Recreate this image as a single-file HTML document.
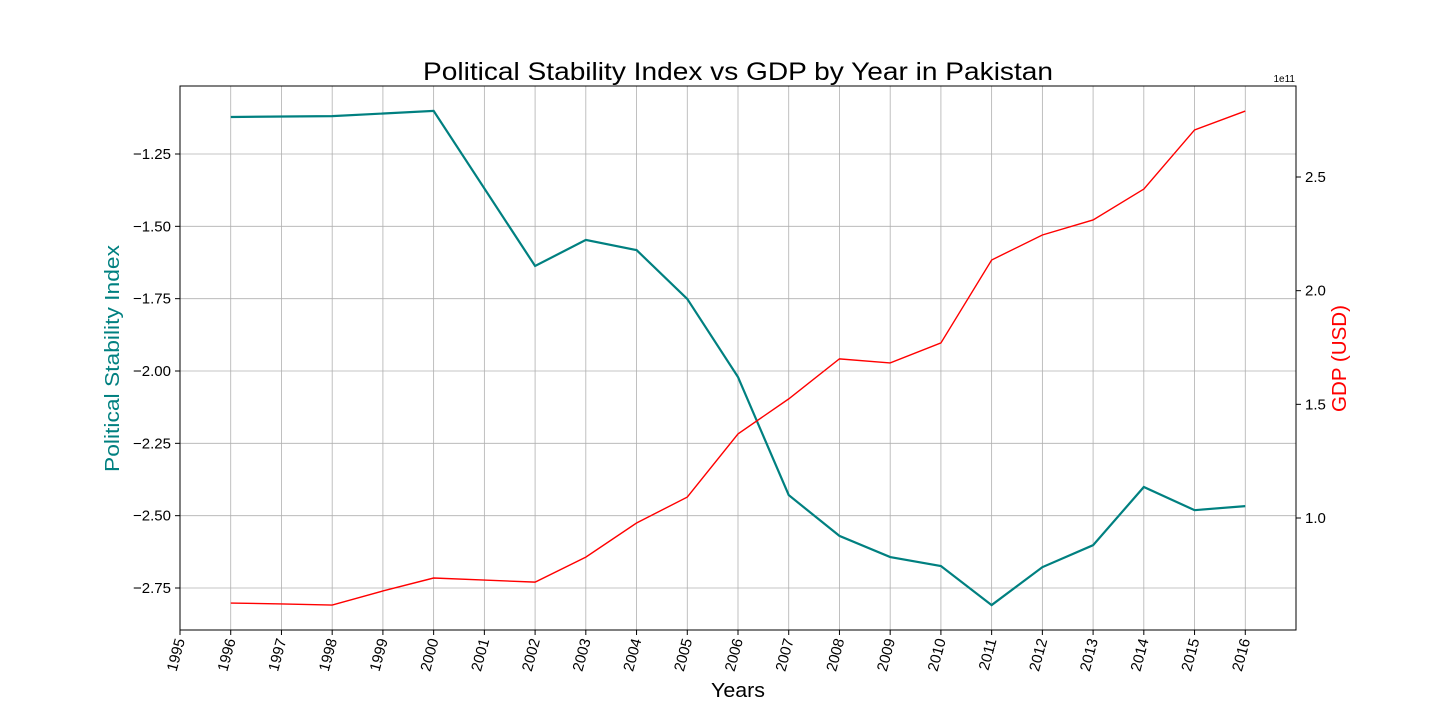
<!DOCTYPE html>
<html><head><meta charset="utf-8"><style>
html,body{margin:0;padding:0;background:#fff;}
svg{display:block;font-family:"Liberation Sans","DejaVu Sans",sans-serif;}
</style></head><body>
<svg id="chart" width="1440" height="720" viewBox="0 0 1440 720" xmlns="http://www.w3.org/2000/svg">
<g id="grid"></g>
<g id="series"></g>
<rect x="180" y="86" width="1116" height="544" fill="none" stroke="#000" stroke-width="1"/>
<g id="axes"></g>
<text x="423" y="80" font-size="25" textLength="630" lengthAdjust="spacingAndGlyphs">Political Stability Index vs GDP by Year in Pakistan</text>
<text x="711" y="697" font-size="20" textLength="54" lengthAdjust="spacingAndGlyphs">Years</text>
<text transform="translate(119,472) rotate(-90)" font-size="20" fill="#008080" textLength="227" lengthAdjust="spacingAndGlyphs">Political Stability Index</text>
<text transform="translate(1346,412) rotate(-90)" font-size="20" fill="#ff0000" textLength="107" lengthAdjust="spacingAndGlyphs">GDP (USD)</text>
<text x="1295" y="82" font-size="10" text-anchor="end">1e11</text>
</svg>
<script>
const psiYears=[1996,1998,2000,2002,2003,2004,2005,2006,2007,2008,2009,2010,2011,2012,2013,2014,2015,2016];
const psiValues=[-1.122,-1.119,-1.101,-1.637,-1.547,-1.582,-1.751,-2.021,-2.429,-2.570,-2.643,-2.674,-2.809,-2.678,-2.602,-2.401,-2.481,-2.467];
const gdpYears=[1996,1997,1998,1999,2000,2001,2002,2003,2004,2005,2006,2007,2008,2009,2010,2011,2012,2013,2014,2015,2016];
const gdpValues=[0.626,0.622,0.617,0.679,0.736,0.727,0.718,0.828,0.978,1.092,1.370,1.524,1.700,1.682,1.770,2.135,2.245,2.311,2.447,2.707,2.790];
const xTicks=[1995,1996,1997,1998,1999,2000,2001,2002,2003,2004,2005,2006,2007,2008,2009,2010,2011,2012,2013,2014,2015,2016];
const leftTicks=[-1.25,-1.5,-1.75,-2.0,-2.25,-2.5,-2.75];
const rightTicks=[1.0,1.5,2.0,2.5];
const NS="http://www.w3.org/2000/svg";
const X=y=>180+(y-1995)*(1296-180)/22;
const YL=v=>154+(-1.25-v)*289.33;
const YR=v=>518-(v-1.0)*227.33;
function mk(tag,attrs,parent,text){const e=document.createElementNS(NS,tag);for(const k in attrs)e.setAttribute(k,attrs[k]);if(text!==undefined)e.textContent=text;parent.appendChild(e);return e;}
const grid=document.getElementById('grid'),axes=document.getElementById('axes'),series=document.getElementById('series');
xTicks.forEach(t=>{const x=X(t);
const g=mk('line',{x1:x,x2:x,y1:86,y2:630,stroke:'#b0b0b0','stroke-width':0.8},grid);


const tk=mk('line',{x1:x,x2:x,y1:630,y2:635,stroke:'#000'},axes);


const lb=mk('text',{transform:`translate(${x+5},640) rotate(-75)`,'font-size':15,'text-anchor':'end'},axes,String(t));


});
leftTicks.forEach(t=>{const y=YL(t);
const g=mk('line',{x1:180,x2:1296,y1:y,y2:y,stroke:'#b0b0b0','stroke-width':0.8},grid);


const tk=mk('line',{x1:175,x2:180,y1:y,y2:y,stroke:'#000'},axes);


const lb=mk('text',{x:171,y:y+5,'font-size':15,'text-anchor':'end'},axes,'\u2212'+Math.abs(t).toFixed(2));


});
rightTicks.forEach(t=>{const y=YR(t);
const tk=mk('line',{x1:1296,x2:1301,y1:y,y2:y,stroke:'#000'},axes);


const lb=mk('text',{x:1305,y:y+5,'font-size':15},axes,t.toFixed(1));


});
const psi=mk('polyline',{points:psiYears.map((y,i)=>X(y)+','+YL(psiValues[i])).join(' '),fill:'none',stroke:'#008080','stroke-width':2.2},series);


const gdp=mk('polyline',{points:gdpYears.map((y,i)=>X(y)+','+YR(gdpValues[i])).join(' '),fill:'none',stroke:'#ff0000','stroke-width':1.4},series);


</script>
</body></html>
